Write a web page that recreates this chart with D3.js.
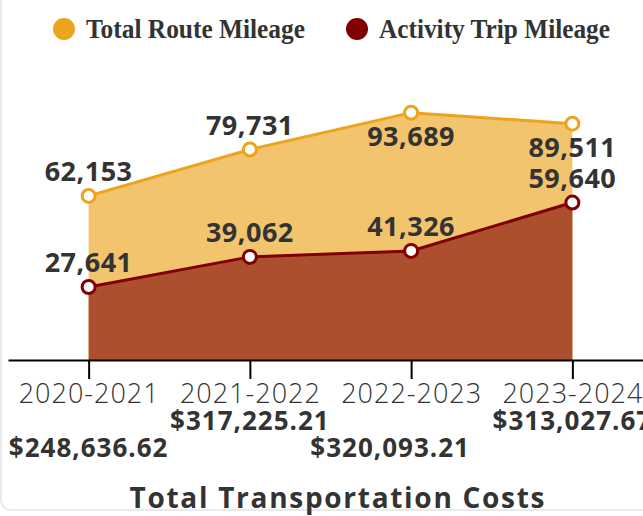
<!DOCTYPE html>
<html>
<head>
<meta charset="utf-8">
<script src="https://cdn.jsdelivr.net/npm/d3@7"></script>
<style>
  body { margin: 0; background: #fff; }
  svg { display: block; }
</style>
</head>
<body>
<div id="chart"></div>
<script>
// data
const years = ["2020-2021", "2021-2022", "2022-2023", "2023-2024"];
const totalRoute = [62153, 79731, 93689, 89511];
const activityTrip = [27641, 39062, 41326, 59640];
const costs = ["$248,636.62", "$317,225.21", "$320,093.21", "$313,027.67"];
const seriesNames = ["Total Route Mileage", "Activity Trip Mileage"];

// label layout (not data)
const totalLabelPos = ["above", "above", "below", "below"];
const costShift = [0, 0, -21, 0];
const costRow = [1, 0, 1, 0];

const W = 643, H = 516;
const gold = "#eba41b", goldFill = "#f1c46d";
const red = "#800000", redFill = "#ab4f2e";
const ink = "#333333";

d3.select("#chart").selectAll("*").remove();
let svg = d3.select("#chart").append("svg")
    .attr("width", W).attr("height", H);

// card outline
svg.append("rect")
    .attr("x", 1).attr("y", -20)
    .attr("width", 720).attr("height", H + 14)
    .attr("rx", 10)
    .attr("fill", "#fff")
    .attr("stroke", "#e4e4e4").attr("stroke-width", 1.5);

let x = d3.scalePoint().domain(years).range([8, 653]).padding(0.5);
let y = d3.scaleLinear().domain([0, 100000]).range([360, 96]);

// areas
let areaOf = vals => d3.area()
    .x((d, i) => x(years[i]))
    .y0(y(0))
    .y1(d => y(d))(vals);

svg.append("path").attr("d", areaOf(totalRoute)).attr("fill", goldFill);
svg.append("path").attr("d", areaOf(activityTrip)).attr("fill", redFill);

// lines
let lineOf = vals => d3.line()
    .x((d, i) => x(years[i]))
    .y(d => y(d))(vals);

svg.append("path").attr("d", lineOf(totalRoute))
    .attr("fill", "none").attr("stroke", gold).attr("stroke-width", 3);
svg.append("path").attr("d", lineOf(activityTrip))
    .attr("fill", "none").attr("stroke", red).attr("stroke-width", 3);

// axis
let axis = svg.append("g")
    .attr("transform", `translate(0,${y(0)})`)
    .call(d3.axisBottom(x).tickSize(19).tickSizeOuter(0).tickPadding(5));
axis.select(".domain").attr("stroke", "#000").attr("stroke-width", 2);
axis.selectAll(".tick line").attr("stroke", "#000").attr("stroke-width", 2);
axis.selectAll(".tick text")
    .attr("fill", ink)
    .style("font-family", "'Open Sans', sans-serif")
    .style("font-weight", 300)
    .style("font-size", "27px")
    .style("letter-spacing", "1px");

// points
function drawPoints(vals, color) {
    svg.append("g").selectAll("circle")
        .data(vals)
        .join("circle")
        .attr("cx", (d, i) => x(years[i]))
        .attr("cy", d => y(d))
        .attr("r", 6.5)
        .attr("fill", "#fff")
        .attr("stroke", color)
        .attr("stroke-width", 3);
}
drawPoints(totalRoute, gold);
drawPoints(activityTrip, red);

// value labels
function drawLabels(vals, pos) {
    svg.append("g").selectAll("text")
        .data(vals)
        .join("text")
        .attr("x", (d, i) => x(years[i]))
        .attr("y", (d, i) => y(d) + (pos[i] === "below" ? 33 : -15))
        .attr("text-anchor", "middle")
        .attr("fill", ink)
        .style("font-family", "'Open Sans', sans-serif")
        .style("font-weight", 700)
        .style("font-size", "27px")
        .style("letter-spacing", "0.5px")
        .text(d => d3.format(",")(d));
}
drawLabels(totalRoute, totalLabelPos);
drawLabels(activityTrip, years.map(() => "above"));

// cost labels under the axis
svg.append("g").selectAll("text")
    .data(costs)
    .join("text")
    .attr("x", (d, i) => x(years[i]) + costShift[i])
    .attr("y", (d, i) => 430 + costRow[i] * 27)
    .attr("text-anchor", "middle")
    .attr("fill", ink)
    .style("font-family", "'Open Sans', sans-serif")
    .style("font-weight", 700)
    .style("font-size", "26px")
    .style("letter-spacing", "1px")
    .text(d => d);

// title
svg.append("text")
    .attr("x", 337).attr("y", 508)
    .attr("text-anchor", "middle")
    .attr("fill", ink)
    .attr("textLength", 415)
    .style("font-family", "'Open Sans', sans-serif")
    .style("font-weight", 700)
    .style("font-size", "28px")
    .text("Total Transportation Costs");

// legend
let legend = svg.append("g");
let legendX = [64, 357];
let legendColors = [gold, red];
let legendWidth = [219, 231];
seriesNames.forEach((name, i) => {
    legend.append("circle")
        .attr("cx", legendX[i]).attr("cy", 29).attr("r", 11)
        .attr("fill", legendColors[i]);
    legend.append("text")
        .attr("x", legendX[i] + 22).attr("y", 38)
        .attr("fill", ink)
        .attr("textLength", legendWidth[i])
        .attr("lengthAdjust", "spacingAndGlyphs")
        .style("font-family", "'Liberation Serif', serif")
        .style("font-weight", 700)
        .style("font-size", "27px")
        .text(name);
});
</script>
</body>
</html>
